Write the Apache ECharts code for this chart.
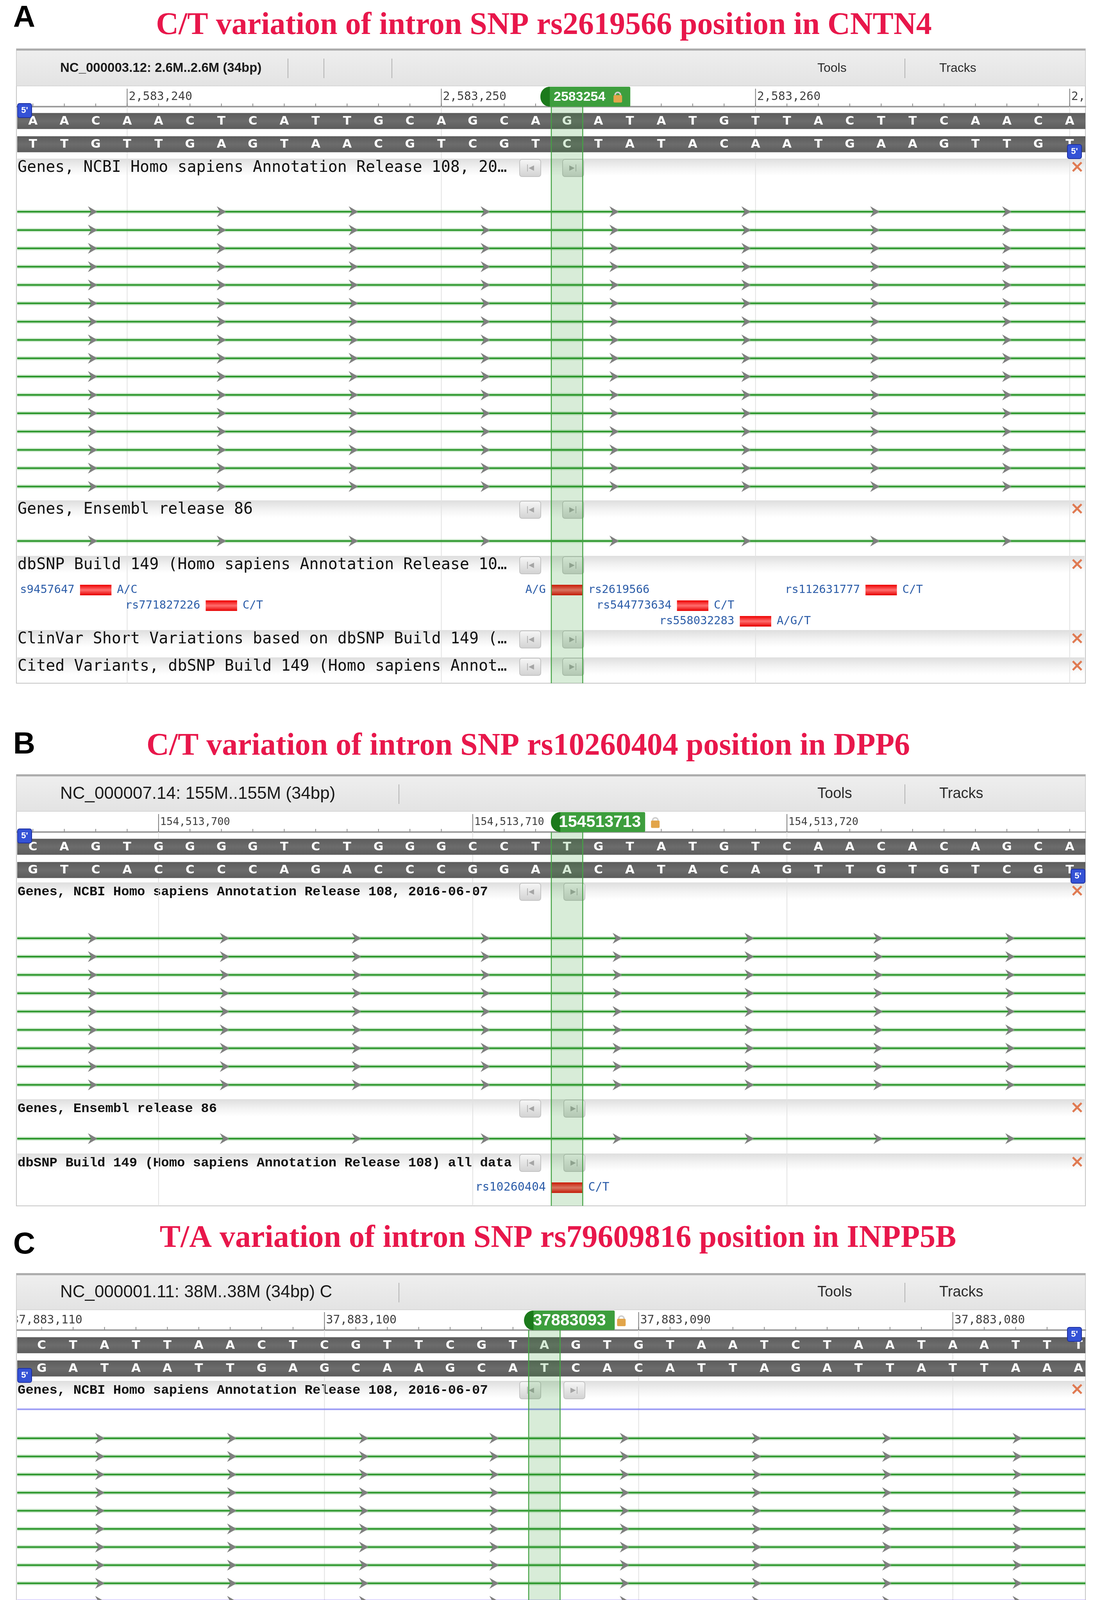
<!DOCTYPE html>
<html>
<head>
<meta charset="utf-8">
<style>
  html, body { margin: 0; padding: 0; background: #fff; }
  #chart { width: 2800px; height: 4522px; }
</style>
<script src="https://cdn.jsdelivr.net/npm/echarts@6/dist/echarts.min.js"></script>
</head>
<body>
<div id="chart"></div>
<script>
// ---- panel A : CNTN4 ----
var titleA = 'C/T variation of intron SNP rs2619566 position in CNTN4';
var headerA = 'NC_000003.12: 2.6M..2.6M (34bp)';
var seqFwdA = 'AACAACTCATTGCAGCAGATATGTTACTTCAACA'.split('');
var seqRevA = 'TTGTTGAGTAACGTCGTCTATACAATGAAGTTGT'.split('');
var tickIdxA = [3, 13, 23, 33];
var tickTxtA = ['2,583,240', '2,583,250', '2,583,260', '2,583,270'];
var markIdxA = 17;
var markTxtA = '2583254';
var ncbiLanesA = [0, 1, 2, 3, 4, 5, 6, 7, 8, 9, 10, 11, 12, 13, 14, 15];
var ncbiKindsA = [0, 0, 0, 0, 0, 0, 0, 0, 0, 0, 0, 0, 0, 0, 0, 0];
var ensLanesA = [0];
var ensKindsA = [0];
var arrowsA = [1.9, 6.0, 10.2, 14.4, 18.5, 22.7, 26.8, 31.0];
var snpIdxA = [2, 6, 17, 21, 23, 27];
var snpRowA = [0, 1, 0, 1, 2, 0];
var snpLeftA = ['s9457647', 'rs771827226', 'A/G', 'rs544773634', 'rs558032283', 'rs112631777'];
var snpRightA = ['A/C', 'C/T', 'rs2619566', 'C/T', 'A/G/T', 'C/T'];
var tracksA = ['Genes, NCBI Homo sapiens Annotation Release 108, 20\u2026', 'Genes, Ensembl release 86',
  'dbSNP Build 149 (Homo sapiens Annotation Release 10\u2026', 'ClinVar Short Variations based on dbSNP Build 149 (\u2026',
  'Cited Variants, dbSNP Build 149 (Homo sapiens Annot\u2026'];

// ---- panel B : DPP6 ----
var titleB = 'C/T variation of intron SNP rs10260404 position in DPP6';
var headerB = 'NC_000007.14: 155M..155M (34bp)';
var seqFwdB = 'CAGTGGGGTCTGGGCCTTGTATGTCAACACAGCA'.split('');
var seqRevB = 'GTCACCCCAGACCCGGAACATACAGTTGTGTCGT'.split('');
var tickIdxB = [4, 14, 24];
var tickTxtB = ['154,513,700', '154,513,710', '154,513,720'];
var markIdxB = 17;
var markTxtB = '154513713';
var ncbiLanesB = [0, 1, 2, 3, 4, 5, 6, 7, 8];
var ncbiKindsB = [0, 0, 0, 0, 0, 0, 0, 0, 0];
var ensLanesB = [0];
var ensKindsB = [0];
var arrowsB = [1.9, 6.1, 10.3, 14.4, 18.6, 22.8, 26.9, 31.1];
var snpIdxB = [17];
var snpRowB = [0];
var snpLeftB = ['rs10260404'];
var snpRightB = ['C/T'];
var tracksB = ['Genes, NCBI Homo sapiens Annotation Release 108, 2016-06-07', 'Genes, Ensembl release 86',
  'dbSNP Build 149 (Homo sapiens Annotation Release 108) all data'];

// ---- panel C : INPP5B ----
var titleC = 'T/A variation of intron SNP rs79609816 position in INPP5B';
var headerC = 'NC_000001.11: 38M..38M (34bp) C';
var seqFwdC = 'CTATTAACTCGTTCGTAGTGTAATCTAATAATTT'.split('');
var seqRevC = 'GATAATTGAGCAAGCATCACATTAGATTATTAAA'.split('');
var tickIdxC = [-1, 9, 19, 29];
var tickTxtC = ['37,883,110', '37,883,100', '37,883,090', '37,883,080'];
var markIdxC = 16;
var markTxtC = '37883093';
var ncbiLanesC = [-1.6, 0, 1, 2, 3, 4, 5, 6, 7, 8, 9, 10, 11];
var ncbiKindsC = [2, 0, 0, 0, 0, 0, 0, 0, 0, 0, 1, 1, 1];
var ensLanesC = [0];
var ensKindsC = [0];
var arrowsC = [1.85, 6.05, 10.25, 14.4, 18.55, 22.75, 26.9, 31.05];
var snpIdxC = [16, 29];
var snpRowC = [0, 0];
var snpLeftC = ['A/T', 'A/G'];
var snpRightC = ['rs79609816', 'rs749673005'];
var tracksC = tracksB.slice();

// ---- layout (pixels) ----
var boxL = 42, boxR = 2778;
var cfgA = {
  tag: 'A', tagY: 47, titleX: 1392, titleY: 66,
  boxTop: 125, headBottom: 220, base: 273, seqTop: 289, boxBottom: 1749,
  headFont: 33, headBold: true, headY: 175, seps: [737, 829, 1003], toolsFont: 32,
  xMin: -0.5, xMax: 33.5, rulerFont: 30,
  trackFont: '"DejaVu Sans Mono"', trackSize: 40, trackWeight: 'normal',
  trackY: [430, 1305, 1447, 1637, 1707], btnX: [1330, 1440],
  ncbiY0: 542, ncbiGap: 46.9, ncbiMin: -0.5, ncbiMax: 15.5,
  ensY: 1385, snpY0: 1510, snpGap: 40, snpMax: 2.5,
  badgeL: -68, badgeW: 230, badgeT: 32, lockC: 130, badgeFont: 34, snpFont: 29,
  primes: [[45, 265], [2732, 370]]
};
var cfgB = {
  tag: 'B', tagY: 1907, titleX: 1352, titleY: 1911,
  boxTop: 1983, headBottom: 2077, base: 2130, seqTop: 2147, boxBottom: 3087,
  headFont: 44, headBold: false, headY: 2033, seps: [1021], toolsFont: 38,
  xMin: -0.5, xMax: 33.5, rulerFont: 27,
  trackFont: '"Liberation Mono"', trackSize: 34, trackWeight: 'bold',
  trackY: [2283, 2838, 2977], btnX: [1330, 1443],
  ncbiY0: 2402, ncbiGap: 46.9, ncbiMin: -0.5, ncbiMax: 8.5,
  ensY: 2915, snpY0: 3040, snpGap: 40, snpMax: 0.5,
  badgeL: -41, badgeW: 241, badgeT: 84, lockC: 226, badgeFont: 42, snpFont: 30,
  primes: [[45, 2122], [2741, 2225]]
};
var cfgC = {
  tag: 'C', tagY: 3187, titleX: 1428, titleY: 3171,
  boxTop: 3260, headBottom: 3353, base: 3405, seqTop: 3423, boxBottom: 4505,
  headFont: 44, headBold: false, headY: 3309, seps: [1021], toolsFont: 38,
  xMin: -0.78, xMax: 33.22, rulerFont: 30,
  trackFont: '"Liberation Mono"', trackSize: 34, trackWeight: 'bold',
  trackY: [3559, 4243, 4383], btnX: [1330, 1443],
  ncbiY0: 3682, ncbiGap: 46.4, ncbiMin: -2.5, ncbiMax: 11.5,
  ensY: 4322, snpY0: 4447, snpGap: 40, snpMax: 0.5,
  badgeL: -52, badgeW: 232, badgeT: 64, lockC: 197, badgeFont: 42, snpFont: 30,
  primes: [[2732, 3398], [45, 3503]]
};

var LG = echarts.graphic.LinearGradient;
var geneStyles = [
  { core: '#2a962a', halo: 'rgba(80,175,80,0.3)', cw: 4, hw: 10, arrows: true },
  { core: '#6a3cf0', halo: 'rgba(120,90,250,0.35)', cw: 4, hw: 10, arrows: true },
  { core: '#8b8bf2', halo: 'rgba(140,140,245,0.3)', cw: 2.5, hw: 6, arrows: false }
];

var option = {
  animation: false,
  backgroundColor: '#fff',
  grid: [], xAxis: [], yAxis: [], series: [],
  graphic: { elements: [] }
};

function txt(s, x, y, size, extra) {
  var st = { text: s, x: x, y: y, fontSize: size, fill: '#222', align: 'left', verticalAlign: 'middle',
    fontFamily: 'Liberation Sans' };
  for (var k in extra) st[k] = extra[k];
  return st;
}

function addGrid(top, height, cfg, yAxis, rulerAxis) {
  var gi = option.grid.length;
  option.grid.push({ left: 44, right: 22, top: top, height: height });
  var xa = { type: 'value', gridIndex: gi, min: cfg.xMin, max: cfg.xMax, show: false };
  if (rulerAxis) {
    xa.show = true;
    xa.position = 'bottom';
    xa.axisLine = { show: true, onZero: false, lineStyle: { color: '#9d9d9d', width: 4 } };
    xa.axisTick = { show: false };
    xa.axisLabel = { show: false };
    xa.splitLine = { show: false };
  }
  option.xAxis.push(xa);
  yAxis.gridIndex = gi;
  yAxis.show = false;
  option.yAxis.push(yAxis);
  return gi;
}

function custom(gi, data, z, render) {
  option.series.push({
    type: 'custom', coordinateSystem: 'cartesian2d', xAxisIndex: gi, yAxisIndex: gi,
    clip: true, silent: true, z: z, data: data, renderItem: render
  });
}

function buildPanel(cfg, d) {
  // grids
  var gRuler = addGrid(cfg.headBottom, cfg.base - cfg.headBottom, cfg, { type: 'value', min: 0, max: 1 }, true);
  var gSeq = addGrid(cfg.seqTop - 9, 119, cfg, { type: 'category', data: ['fwd', 'rev'], inverse: true });
  var gNcbi = addGrid(cfg.ncbiY0 + cfg.ncbiMin * cfg.ncbiGap, (cfg.ncbiMax - cfg.ncbiMin) * cfg.ncbiGap, cfg,
    { type: 'value', inverse: true, min: cfg.ncbiMin, max: cfg.ncbiMax });
  var gEns = addGrid(cfg.ensY - cfg.ncbiGap / 2, cfg.ncbiGap, cfg, { type: 'value', inverse: true, min: -0.5, max: 0.5 });
  var gSnp = addGrid(cfg.snpY0 - cfg.snpGap / 2, (cfg.snpMax + 0.5) * cfg.snpGap, cfg,
    { type: 'value', inverse: true, min: -0.5, max: cfg.snpMax });
  var gOver = addGrid(cfg.base, cfg.boxBottom - cfg.base, cfg, { type: 'value', min: 0, max: 1 });

  // ruler minor ticks (one per base)
  custom(gRuler, d.fwd.map(function (c, i) { return [i, 0]; }), 3, function (params, api) {
    var cs = params.coordSys;
    var x = api.coord([api.value(0), 0])[0];
    var b = cs.y + cs.height;
    return { type: 'line', shape: { x1: x, y1: b - 8, x2: x, y2: b }, style: { stroke: '#8a8a8a', lineWidth: 2 } };
  });
  // ruler major ticks + labels
  custom(gRuler, d.tickIdx.map(function (v) { return [v, 0]; }), 3, function (params, api) {
    var cs = params.coordSys;
    var x = api.coord([api.value(0), 0])[0];
    var b = cs.y + cs.height;
    return { type: 'group', children: [
      { type: 'line', shape: { x1: x, y1: b - 46, x2: x, y2: b }, style: { stroke: '#7a7a7a', lineWidth: 2 } },
      { type: 'text', style: txt(d.tickTxt[params.dataIndex], x + 4, b - 25, cfg.rulerFont,
        { fontFamily: '"DejaVu Sans Mono"', fill: '#3f3f3f' }) }
    ] };
  });
  // position badge
  custom(gRuler, [[d.markIdx, 0]], 6, function (params, api) {
    var cs = params.coordSys;
    var c = api.coord([api.value(0), 0])[0];
    var x0 = c + cfg.badgeL, top = cs.y + 2, h = cs.height - 2;
    var lc = c + cfg.lockC, lm = top + h / 2;
    return { type: 'group', children: [
      { type: 'rect', shape: { x: x0, y: top, width: cfg.badgeW, height: h, r: [h / 2, 3, 3, h / 2] },
        style: { fill: '#3d9e3d' } },
      { type: 'rect', shape: { x: x0, y: top, width: 24, height: h, r: [h / 2, 0, 0, h / 2] },
        style: { fill: '#1c7a1c' } },
      { type: 'text', style: txt(d.markTxt, c + cfg.badgeT, lm + 1, cfg.badgeFont,
        { align: 'center', fontWeight: 'bold', fill: '#fff' }) },
      { type: 'arc', shape: { cx: lc, cy: lm - 4, r: 7, startAngle: Math.PI, endAngle: 2 * Math.PI },
        style: { stroke: '#cfcfcf', lineWidth: 4, fill: null } },
      { type: 'rect', shape: { x: lc - 11, y: lm - 4, width: 22, height: 19, r: 3 }, style: { fill: '#e2a54a' } }
    ] };
  });

  // sequence bands
  custom(gSeq, [[0, 0], [0, 1]], 2, function (params, api) {
    var cs = params.coordSys;
    var y = api.coord([0, api.value(1)])[1];
    return { type: 'rect', shape: { x: cs.x, y: y - 20.5, width: cs.width, height: 41 },
      style: { fill: new LG(0, 0, 0, 1, [{ offset: 0, color: '#5c5c5c' }, { offset: 0.5, color: '#6c6c6c' }, { offset: 1, color: '#5c5c5c' }]) } };
  });
  // sequence letters
  var letters = d.fwd.concat(d.rev);
  var letterData = d.fwd.map(function (c, i) { return [i, 0]; }).concat(d.rev.map(function (c, i) { return [i, 1]; }));
  custom(gSeq, letterData, 3, function (params, api) {
    var p = api.coord([api.value(0), api.value(1)]);
    return { type: 'text', style: txt(letters[params.dataIndex], p[0], p[1] + 1, 31,
      { align: 'center', fontWeight: 'bold', fontFamily: '"DejaVu Sans"', fill: '#fff' }) };
  });

  // gene tracks
  function geneRender(params, api) {
    var cs = params.coordSys;
    var lane = api.value(1), st = geneStyles[api.value(2)];
    var y = api.coord([0, lane])[1];
    var ch = [
      { type: 'line', shape: { x1: cs.x, y1: y, x2: cs.x + cs.width, y2: y }, style: { stroke: st.halo, lineWidth: st.hw } },
      { type: 'line', shape: { x1: cs.x, y1: y, x2: cs.x + cs.width, y2: y }, style: { stroke: st.core, lineWidth: st.cw } }
    ];
    if (st.arrows) {
      d.arrows.forEach(function (a) {
        var x = api.coord([a, lane])[0];
        ch.push({ type: 'polygon', shape: { points: [[x - 12, y - 14], [x + 12, y], [x - 12, y + 14], [x - 4, y]] },
          style: { fill: '#7f7f7f' } });
      });
    }
    return { type: 'group', children: ch };
  }
  custom(gNcbi, d.ncbiLanes.map(function (l, i) { return [0, l, d.ncbiKinds[i]]; }), 2, geneRender);
  custom(gEns, d.ensLanes.map(function (l, i) { return [0, l, d.ensKinds[i]]; }), 2, geneRender);

  // SNPs
  custom(gSnp, d.snpIdx.map(function (v, i) { return [v, d.snpRow[i]]; }), 2, function (params, api) {
    var v = api.value(0), row = api.value(1);
    var p0 = api.coord([v - 0.5, row]), p1 = api.coord([v + 0.5, row]);
    var y = p0[1];
    return { type: 'group', children: [
      { type: 'rect', shape: { x: p0[0], y: y - 13, width: p1[0] - p0[0], height: 27 },
        style: { fill: new LG(0, 0, 0, 1, [{ offset: 0, color: '#ee0000' }, { offset: 0.5, color: '#ff6d6d' }, { offset: 1, color: '#e60000' }]) } },
      { type: 'text', style: txt(d.snpLeft[params.dataIndex], p0[0] - 14, y, cfg.snpFont,
        { align: 'right', fontFamily: '"DejaVu Sans Mono"', fill: '#2b5ca8' }) },
      { type: 'text', style: txt(d.snpRight[params.dataIndex], p1[0] + 14, y, cfg.snpFont,
        { align: 'left', fontFamily: '"DejaVu Sans Mono"', fill: '#2b5ca8' }) }
    ] };
  });

  // faint vertical grid lines at major ticks
  custom(gOver, d.tickIdx.map(function (v) { return [v, 0]; }), 1, function (params, api) {
    var cs = params.coordSys;
    var x = api.coord([api.value(0), 0])[0];
    return { type: 'line', shape: { x1: x, y1: cs.y, x2: x, y2: cs.y + cs.height }, style: { stroke: '#e2e2e2', lineWidth: 2 } };
  });
  // highlighted column
  custom(gOver, [[d.markIdx, 0]], 5, function (params, api) {
    var cs = params.coordSys;
    var x0 = api.coord([api.value(0) - 0.5, 0])[0], x1 = api.coord([api.value(0) + 0.5, 0])[0];
    return { type: 'group', children: [
      { type: 'rect', shape: { x: x0, y: cs.y, width: x1 - x0, height: cs.height }, style: { fill: 'rgba(40,150,40,0.18)' } },
      { type: 'line', shape: { x1: x0, y1: cs.y, x2: x0, y2: cs.y + cs.height }, style: { stroke: '#45a345', lineWidth: 2.5 } },
      { type: 'line', shape: { x1: x1, y1: cs.y, x2: x1, y2: cs.y + cs.height }, style: { stroke: '#45a345', lineWidth: 2.5 } }
    ] };
  });

  // ---- decoration (browser frame) ----
  var g = option.graphic.elements;
  var boxW = boxR - boxL;
  g.push({ type: 'text', z: 1, style: txt(cfg.tag, 62, cfg.tagY, 78, { align: 'center', fontWeight: 'bold', fill: '#000' }) });
  g.push({ type: 'text', z: 1, style: txt(d.title, cfg.titleX, cfg.titleY, 80,
    { align: 'center', fontWeight: 'bold', fontFamily: '"Liberation Serif"', fill: '#e8174b' }) });
  g.push({ type: 'rect', z: 0, shape: { x: boxL, y: cfg.boxTop, width: boxW, height: cfg.boxBottom - cfg.boxTop },
    style: { fill: '#fff', stroke: '#c4c4c4', lineWidth: 2 } });
  g.push({ type: 'rect', z: 0, shape: { x: boxL, y: cfg.boxTop, width: boxW, height: cfg.headBottom - cfg.boxTop },
    style: { fill: new LG(0, 0, 0, 1, [{ offset: 0, color: '#efefef' }, { offset: 1, color: '#e3e3e3' }]), stroke: '#cfcfcf', lineWidth: 1.5 } });
  g.push({ type: 'line', z: 0, shape: { x1: boxL, y1: cfg.boxTop + 2, x2: boxR, y2: cfg.boxTop + 2 },
    style: { stroke: '#ababab', lineWidth: 5 } });
  g.push({ type: 'text', z: 1, style: txt(d.header, 154, cfg.headY, cfg.headFont,
    { fill: '#1a1a1a', fontWeight: cfg.headBold ? 'bold' : 'normal' }) });
  cfg.seps.concat([2316]).forEach(function (x) {
    g.push({ type: 'line', z: 1, shape: { x1: x, y1: cfg.headY - 25, x2: x, y2: cfg.headY + 25 }, style: { stroke: '#b3b3b3', lineWidth: 2 } });
  });
  g.push({ type: 'text', z: 1, style: txt('Tools', 2092, cfg.headY, cfg.toolsFont, { fill: '#2a2a2a' }) });
  g.push({ type: 'text', z: 1, style: txt('Tracks', 2404, cfg.headY, cfg.toolsFont, { fill: '#2a2a2a' }) });

  d.tracks.forEach(function (name, i) {
    var y = cfg.trackY[i];
    g.push({ type: 'rect', z: 0, shape: { x: boxL + 2, y: y - 24, width: boxW - 4, height: 44 },
      style: { fill: new LG(0, 0, 0, 1, [{ offset: 0, color: '#dedede' }, { offset: 0.55, color: '#f3f3f3' }, { offset: 1, color: '#ffffff' }]) } });
    g.push({ type: 'text', z: 1, style: txt(name, 45, y, cfg.trackSize,
      { fontFamily: cfg.trackFont, fontWeight: cfg.trackWeight, fill: '#111' }) });
    cfg.btnX.forEach(function (bx, j) {
      g.push({ type: 'rect', z: 1, shape: { x: bx, y: y - 22, width: 54, height: 44, r: 6 },
        style: { fill: new LG(0, 0, 0, 1, [{ offset: 0, color: '#f7f7f7' }, { offset: 1, color: '#d2d2d2' }]), stroke: '#c3c3c3', lineWidth: 2 } });
      g.push({ type: 'text', z: 2, style: txt(j === 0 ? '|\u25C0' : '\u25B6|', bx + 27, y, 18,
        { align: 'center', fontFamily: '"DejaVu Sans"', fill: '#a5a5a5' }) });
    });
    g.push({ type: 'text', z: 1, style: txt('\u00D7', 2757, y, 44, { align: 'center', fontWeight: 'bold', fontFamily: '"DejaVu Sans"', fill: '#e07a52' }) });
  });

  cfg.primes.forEach(function (p) {
    g.push({ type: 'rect', z: 30, shape: { x: p[0], y: p[1], width: 36, height: 36, r: 5 },
      style: { fill: '#3452d6', stroke: '#1d2fa0', lineWidth: 2 } });
    g.push({ type: 'text', z: 31, style: txt("5'", p[0] + 18, p[1] + 18, 22,
      { align: 'center', fontWeight: 'bold', fill: '#fff' }) });
  });
}

buildPanel(cfgA, {
  title: titleA, header: headerA, fwd: seqFwdA, rev: seqRevA, tickIdx: tickIdxA, tickTxt: tickTxtA,
  markIdx: markIdxA, markTxt: markTxtA, ncbiLanes: ncbiLanesA, ncbiKinds: ncbiKindsA,
  ensLanes: ensLanesA, ensKinds: ensKindsA, arrows: arrowsA, snpIdx: snpIdxA, snpRow: snpRowA,
  snpLeft: snpLeftA, snpRight: snpRightA, tracks: tracksA
});
buildPanel(cfgB, {
  title: titleB, header: headerB, fwd: seqFwdB, rev: seqRevB, tickIdx: tickIdxB, tickTxt: tickTxtB,
  markIdx: markIdxB, markTxt: markTxtB, ncbiLanes: ncbiLanesB, ncbiKinds: ncbiKindsB,
  ensLanes: ensLanesB, ensKinds: ensKindsB, arrows: arrowsB, snpIdx: snpIdxB, snpRow: snpRowB,
  snpLeft: snpLeftB, snpRight: snpRightB, tracks: tracksB
});
buildPanel(cfgC, {
  title: titleC, header: headerC, fwd: seqFwdC, rev: seqRevC, tickIdx: tickIdxC, tickTxt: tickTxtC,
  markIdx: markIdxC, markTxt: markTxtC, ncbiLanes: ncbiLanesC, ncbiKinds: ncbiKindsC,
  ensLanes: ensLanesC, ensKinds: ensKindsC, arrows: arrowsC, snpIdx: snpIdxC, snpRow: snpRowC,
  snpLeft: snpLeftC, snpRight: snpRightC, tracks: tracksC
});

var chart = echarts.init(document.getElementById('chart'), null, { renderer: 'canvas' });
chart.setOption(option);
window.addEventListener('resize', function () { chart.resize(); });
</script>
</body>
</html>
